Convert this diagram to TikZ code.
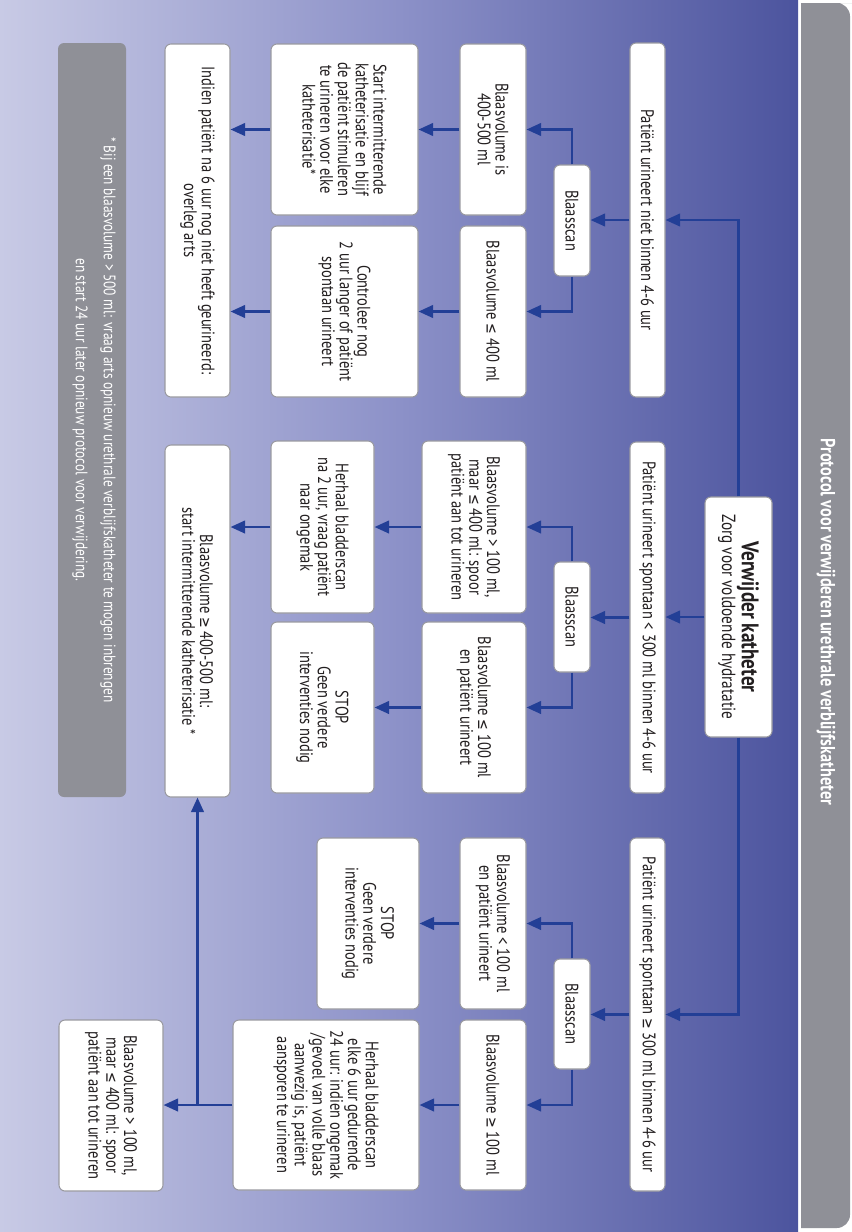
\documentclass[tikz,border=0pt]{standalone}
\usepackage{fontspec}
\setmainfont{PT Sans}[FakeStretch=0.8]
\newfontfamily\symf{DejaVu Sans}[FakeStretch=0.8,Scale=0.88]
\usetikzlibrary{arrows.meta}
\newcommand\lteq{{\symf ≤}}
\newcommand\gteq{{\symf ≥}}
\definecolor{arrowblue}{HTML}{233F96}
\definecolor{boxline}{HTML}{9A9AA0}
\definecolor{txt}{HTML}{231F20}
\definecolor{barGray}{HTML}{8F9097}
\definecolor{bgL}{HTML}{C8CAE5}
\definecolor{bgM}{HTML}{8C91C8}
\definecolor{bgR}{HTML}{4C549E}
\tikzset{
  box/.style={draw=boxline, line width=0.8pt, fill=white, rounded corners=4.5pt,
    rotate=-90, align=center, text=txt, font=\fontsize{13.6}{13.3}\selectfont, inner sep=0pt},
  arr/.style={draw=arrowblue, line width=1.8pt, -{Triangle[length=11pt,width=9.5pt]}},
  ln/.style={draw=arrowblue, line width=1.8pt}
}
\newcommand\mkbox[6]{\node[box, minimum width={(#5-#3)*0.75pt}, minimum height={(#4-#2)*0.75pt}] (#1) at ({(#2+#4)/2},{(#3+#5)/2}) {#6};}
\begin{document}
\begin{tikzpicture}[x=0.75pt, y=-0.75pt]
\useasboundingbox (0,0) rectangle (852,1232);
\fill[white] (0,0) rectangle (852,1232);
\shade[left color=bgL, right color=bgR, middle color=bgM] (0,0) rectangle (798,1232);
\fill[barGray, rounded corners=10pt] (801,3) -- (840,3) -- (850,3) -- (850,1228) [sharp corners] -- (801,1228) -- cycle;
\node[rotate=-90, text=white, font=\fontsize{15.3}{17}\selectfont\bfseries] (title) at (826,622) {Protocol voor verwijderen urethrale verblijfskatheter};

% footnote
\fill[barGray, rounded corners=4.5pt] (58,43) rectangle (126,797);
\node[rotate=-90, align=center, text=white, font=\fontsize{12.5}{21}\selectfont] (note) at (94,420) {* Bij een blaasvolume > 500 ml: vraag arts opnieuw urethrale verblijfskatheter te mogen inbrengen\\ en start 24 uur later opnieuw protocol voor verwijdering.};

% boxes
\mkbox{S}{705}{497}{772}{737}{{\fontsize{18}{20}\selectfont\bfseries Verwijder katheter}\\ {\fontsize{14.3}{15}\selectfont Zorg voor voldoende hydratatie}}
\mkbox{A1}{630}{43}{665}{397}{Patiënt urineert niet binnen 4-6 uur}
\mkbox{A2}{630}{442}{665}{793}{Patiënt urineert spontaan < 300 ml binnen 4-6 uur}
\mkbox{A3}{630}{838}{665}{1191}{Patiënt urineert spontaan \gteq{} 300 ml binnen 4-6 uur}
\mkbox{B1}{554}{165}{590}{276}{Blaasscan}
\mkbox{B2}{554}{562}{590}{672}{Blaasscan}
\mkbox{B3}{554}{959}{590}{1069}{Blaasscan}
\mkbox{C1}{460}{44}{526}{215}{Blaasvolume is\\400-500 ml}
\mkbox{C2}{460}{226}{526}{397}{Blaasvolume \lteq{} 400 ml}
\mkbox{C3}{422}{441}{526}{613}{Blaasvolume > 100 ml,\\maar \lteq{} 400 ml: spoor\\patiënt aan tot urineren}
\mkbox{C4}{422}{622}{526}{793}{Blaasvolume \lteq{} 100 ml\\en patiënt urineert}
\mkbox{C5}{460}{838}{526}{1009}{Blaasvolume < 100 ml\\en patiënt urineert}
\mkbox{C6}{460}{1020}{526}{1190}{Blaasvolume \gteq{} 100 ml}
\mkbox{D1}{271}{44}{418}{215}{Start intermitterende\\katheterisatie en blijf\\de patiënt stimuleren\\te urineren voor elke\\katheterisatie*}
\mkbox{D2}{271}{226}{418}{397}{Controleer nog\\2 uur langer of patiënt\\spontaan urineert}
\mkbox{D3}{271}{441}{374}{613}{Herhaal bladderscan\\na 2 uur, vraag patiënt\\naar ongemak}
\mkbox{D4}{271}{622}{374}{793}{STOP\\Geen verdere\\interventies nodig}
\mkbox{D5}{317}{838}{419}{1009}{STOP\\Geen verdere\\interventies nodig}
\mkbox{D6}{233}{1020}{419}{1190}{Herhaal bladderscan\\elke 6 uur gedurende\\24 uur: indien ongemak\\/gevoel van volle blaas\\aanwezig is, patiënt\\aansporen te urineren}
\mkbox{E}{165}{44}{230}{397}{Indien patiënt na 6 uur nog niet heeft geurineerd:\\overleg arts}
\mkbox{E2}{165}{445}{230}{797}{Blaasvolume \gteq{} 400-500 ml:\\start intermitterende katheterisatie *}
\mkbox{F}{59}{1020}{163}{1191}{Blaasvolume > 100 ml,\\maar \lteq{} 400 ml: spoor\\patiënt aan tot urineren}

% connectors
\draw[arr] (S.west) |- (A1.north);
\draw[arr] (S.south) -- (S.south -| A2.north);
\draw[arr] (S.east) |- (A3.north);
\draw[arr] (A1.south) -- (A1.south -| B1.north);
\draw[arr] (A2.south) -- (A2.south -| B2.north);
\draw[arr] (A3.south) -- (A3.south -| B3.north);
\draw[arr] (B1.west) |- (C1.north);
\draw[arr] (B1.east) |- (C2.north);
\draw[arr] (B2.west) |- (C3.north);
\draw[arr] (B2.east) |- (C4.north);
\draw[arr] (B3.west) |- (C5.north);
\draw[arr] (B3.east) |- (C6.north);
\draw[arr] (C1.south) -- (C1.south -| D1.north);
\draw[arr] (C2.south) -- (C2.south -| D2.north);
\draw[arr] (C3.south) -- (C3.south -| D3.north);
\draw[arr] (C4.south) -- (C4.south -| D4.north);
\draw[arr] (C5.south) -- (C5.south -| D5.north);
\draw[arr] (C6.south) -- (C6.south -| D6.north);
\draw[arr] (D1.south) -- (D1.south -| E.north);
\draw[arr] (D2.south) -- (D2.south -| E.north);
\draw[arr] (D3.south) -- (D3.south -| E2.north);
\draw[arr] (D6.south) -- (D6.south -| F.north);
\coordinate (j) at (D6.south -| E2.east);
\draw[arr] (j) -- (E2.east);
\end{tikzpicture}
\end{document}
